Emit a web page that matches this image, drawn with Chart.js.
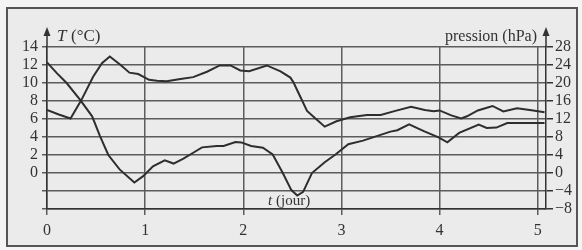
<!DOCTYPE html>
<html><head><meta charset="utf-8">
<script src="https://cdn.jsdelivr.net/npm/chart.js@4/dist/chart.umd.min.js"></script>
<style>html,body{margin:0;padding:0;background:#f4f4f4}#wrap{width:582px;height:250px;position:relative}</style>
</head><body><div id="wrap"><canvas id="c" width="582" height="250"></canvas></div>
<script>
// time in days
const tempDays = [0,0.10,0.20,0.34,0.46,0.54,0.625,0.74,0.89,0.98,1.08,1.20,1.29,1.39,1.49,1.58,1.73,1.80,1.92,1.98,2.08,2.20,2.30,2.40,2.49,2.55,2.61,2.70,2.83,2.94,3.07,3.22,3.36,3.50,3.57,3.69,3.84,3.99,4.08,4.20,4.40,4.48,4.58,4.69,5.07];
const temperature = [12.3,11.1,10.0,8.1,6.3,4.1,2.0,0.4,-1.05,-0.35,0.75,1.4,1.05,1.6,2.25,2.85,3.0,3.0,3.45,3.4,3.0,2.8,2.05,0.05,-1.9,-2.5,-2.1,0.0,1.2,2.05,3.2,3.6,4.1,4.6,4.75,5.4,4.65,3.95,3.4,4.45,5.37,5.0,5.05,5.55,5.55];
const pressDays = [0,0.12,0.24,0.35,0.47,0.56,0.64,0.75,0.84,0.93,1.04,1.12,1.22,1.36,1.49,1.63,1.76,1.87,1.97,2.06,2.24,2.38,2.48,2.51,2.58,2.65,2.73,2.83,2.95,3.09,3.26,3.40,3.55,3.71,3.85,3.94,4.00,4.12,4.22,4.28,4.39,4.54,4.65,4.79,4.92,5.07];
const pressure = [14,13,12.1,16.2,21.4,24.4,25.9,24,22.3,22,20.7,20.5,20.4,20.9,21.3,22.5,23.9,23.9,22.8,22.6,23.9,22.6,21.2,20.2,17,13.8,12.2,10.3,11.5,12.4,12.9,12.9,13.8,14.7,14,13.7,13.9,12.8,12.1,12.6,13.9,14.9,13.7,14.4,14,13.5];
const xTicks = [0,1,2,3,4,5];
const tempTicks = [-4,-2,0,2,4,6,8,10,12,14];
const pressTicks = [-8,-4,0,4,8,12,16,20,24,28];

const SERIF = '"Liberation Serif","DejaVu Serif",serif';
const INK = '#333333';
const GRID = '#5c5c5c';

const deco = {
  id: 'deco',
  beforeDraw(chart) {
    const ctx = chart.ctx;
    ctx.save();
    ctx.fillStyle = '#f4f4f4';
    ctx.fillRect(0, 0, chart.width, chart.height);
    ctx.fillStyle = '#ebebeb';
    ctx.fillRect(7, 8, 570, 238);
    ctx.strokeStyle = '#555';
    ctx.lineWidth = 2;
    ctx.strokeRect(7, 8, 570, 238);
    ctx.restore();
  },
  afterDraw(chart) {
    const ctx = chart.ctx;
    const a = chart.chartArea;
    ctx.save();
    ctx.strokeStyle = '#333';
    ctx.fillStyle = '#333';
    ctx.lineWidth = 1.5;
    [a.left, a.right].forEach(x => {
      ctx.beginPath(); ctx.moveTo(x, a.top); ctx.lineTo(x, a.top - 14); ctx.stroke();
      ctx.beginPath(); ctx.moveTo(x, a.top - 20); ctx.lineTo(x - 3.5, a.top - 11); ctx.lineTo(x + 3.5, a.top - 11); ctx.closePath(); ctx.fill();
    });
    ctx.fillStyle = INK;
    ctx.textBaseline = 'alphabetic';
    ctx.textAlign = 'left';
    ctx.font = 'italic 17px ' + SERIF;
    ctx.fillText('T', 57, 41);
    ctx.font = '17px ' + SERIF;
    ctx.fillText('(°C)', 71, 41);
    ctx.textAlign = 'right';
    ctx.font = '16px ' + SERIF;
    ctx.fillText('pression (hPa)', 537, 41);
    ctx.textAlign = 'left';
    ctx.font = 'italic 15px ' + SERIF;
    ctx.fillText('t', 268, 205);
    ctx.font = '15px ' + SERIF;
    ctx.fillText('(jour)', 276, 205);
    ctx.restore();
  }
};

const toPts = (xs, ys) => xs.map((x, i) => ({x, y: ys[i]}));

new Chart(document.getElementById('c'), {
  type: 'line',
  data: {
    datasets: [
      { label: 'T (°C)', data: toPts(tempDays, temperature), yAxisID: 'y', borderColor: '#2e2e2e', borderWidth: 2, pointRadius: 0, tension: 0 },
      { label: 'pression (hPa)', data: toPts(pressDays, pressure), yAxisID: 'y2', borderColor: '#2e2e2e', borderWidth: 2, pointRadius: 0, tension: 0 }
    ]
  },
  options: {
    responsive: false,
    devicePixelRatio: 1,
    animation: false,
    layout: { padding: { top: 47, left: 0, right: 0, bottom: 0 } },
    plugins: { legend: { display: false }, tooltip: { enabled: false } },
    scales: {
      x: {
        type: 'linear', min: 0, max: 5.085,
        afterBuildTicks: s => { s.ticks = xTicks.map(v => ({ value: v })); },
        afterFit: s => { s.height = 41; },
        ticks: { font: { family: SERIF, size: 16 }, color: INK, padding: 6, maxRotation: 0, autoSkip: false, callback: v => String(v) },
        grid: { color: GRID, lineWidth: 1.5, tickLength: 6 },
        border: { display: true, color: '#333', width: 1.5 }
      },
      y: {
        position: 'left', min: -4, max: 14,
        afterBuildTicks: s => { s.ticks = tempTicks.map(v => ({ value: v })); },
        afterFit: s => { s.width = 47; },
        ticks: { font: { family: SERIF, size: 16 }, color: INK, padding: 4, autoSkip: false, callback: v => v >= 0 ? String(v) : '' },
        grid: { color: GRID, lineWidth: 1.5, tickLength: 5 },
        border: { display: true, color: '#333', width: 1.5 }
      },
      y2: {
        position: 'right', min: -8, max: 28,
        afterBuildTicks: s => { s.ticks = pressTicks.map(v => ({ value: v })); },
        afterFit: s => { s.width = 36; },
        ticks: { font: { family: SERIF, size: 16 }, color: INK, padding: 2, autoSkip: false, callback: v => v < 0 ? '\u2212' + Math.abs(v) : String(v) },
        grid: { drawOnChartArea: false, color: '#333', lineWidth: 1.5, tickLength: 7 },
        border: { display: true, color: '#333', width: 1.5 }
      }
    }
  },
  plugins: [deco]
});
</script>
</body></html>
